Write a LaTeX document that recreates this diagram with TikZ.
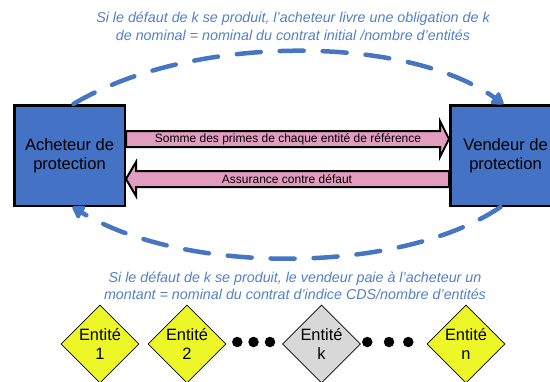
\documentclass[tikz,border=0pt]{standalone}
\usepackage{fontspec}
\setmainfont{Liberation Sans}
\usetikzlibrary{shapes.geometric,arrows.meta,calc}

\definecolor{boxblue}{RGB}{68,114,196}
\definecolor{arcblue}{RGB}{70,117,196}
\definecolor{noteblue}{RGB}{82,128,200}
\definecolor{flowpink}{RGB}{226,156,192}
\definecolor{entyellow}{RGB}{237,246,38}
\definecolor{entgray}{RGB}{216,216,216}

\tikzset{
  party/.style={draw=black, line width=2.5pt, fill=boxblue, minimum width=110.5pt,
    minimum height=100.5pt, inner sep=0pt, align=center,
    font=\fontsize{16.5}{19.5}\selectfont},
  flow/.style={draw=black, line width=2pt, fill=flowpink, line join=miter},
  flowlabel/.style={inner sep=0pt, font=\fontsize{12}{14}\selectfont},
  entity/.style={diamond, draw=black, line width=0.8pt, minimum width=78pt,
    minimum height=78pt, inner sep=0pt, align=center,
    font=\fontsize{16.4}{19}\selectfont},
  note/.style={text=noteblue, align=center, inner sep=0pt,
    font=\fontsize{14.3}{17.5}\selectfont\itshape},
  settle/.style={draw=arcblue, line width=4.5pt, line cap=round,
    dash pattern=on 24pt off 19pt,
    -{Triangle[length=13pt,width=16pt,round]}},
  dotmark/.style={circle, fill=black, minimum size=10.5pt, inner sep=0pt}
}

\begin{document}
\begin{tikzpicture}[x=1pt, y=-1pt]
  \useasboundingbox (0,0) rectangle (550,381);

  % counterparties
  \node[party] (buyer)  at (69.5,155.5)  {Acheteur de\\protection};
  \node[party] (seller) at (505.5,155.5) {Vendeur de\\protection};

  % premium leg (buyer -> seller)
  \draw[flow] (buyer.east |- 0,131) -- (440,131) -- (440,121)
    -- (seller.west |- 0,139) -- (440,157) -- (440,147)
    -- (buyer.east |- 0,147) -- cycle;
  \node[flowlabel] (premium) at (288,139)
    {Somme des primes de chaque entité de référence};

  % protection leg (seller -> buyer)
  \draw[flow] (seller.west |- 0,171) -- (136,171) -- (136,162)
    -- (buyer.east |- 0,179) -- (136,196) -- (136,187)
    -- (seller.west |- 0,187) -- cycle;
  \node[flowlabel] (cover) at (287,179.5) {Assurance contre défaut};

  % settlement on default
  \draw[settle] ([xshift=4pt]buyer.north) .. controls (190,34) and (405,34)
    .. ([xshift=-2pt]seller.north);
  \draw[settle] ([xshift=-5pt]seller.south) .. controls (400,275) and (185,275)
    .. ([xshift=3pt]buyer.south);

  \node[note] (delivery) at (293,26.5)
    {Si le défaut de k se produit, l’acheteur livre une obligation de k\\
     de nominal = nominal du contrat initial /nombre d’entités};
  \node[note] (payment) at (295,286)
    {Si le défaut de k se produit, le vendeur paie à l’acheteur un\\
     montant = nominal du contrat d’indice CDS/nombre d’entités};

  % reference entities
  \node[entity, fill=entyellow] (e1) at (100,344)   {Entité\\1};
  \node[entity, fill=entyellow] (e2) at (187,344)   {Entité\\2};
  \node[entity, fill=entgray]   (ek) at (321.5,344) {Entité\\k};
  \node[entity, fill=entyellow] (en) at (466,344)   {Entité\\n};

  \node[dotmark] (d1) at (237.3,342) {};
  \node[dotmark] (d2) at (253.5,342) {};
  \node[dotmark] (d3) at (270,342)   {};
  \node[dotmark] (d4) at (367.3,342) {};
  \node[dotmark] (d5) at (389,342)   {};
  \node[dotmark] (d6) at (408.3,342) {};
\end{tikzpicture}
\end{document}
